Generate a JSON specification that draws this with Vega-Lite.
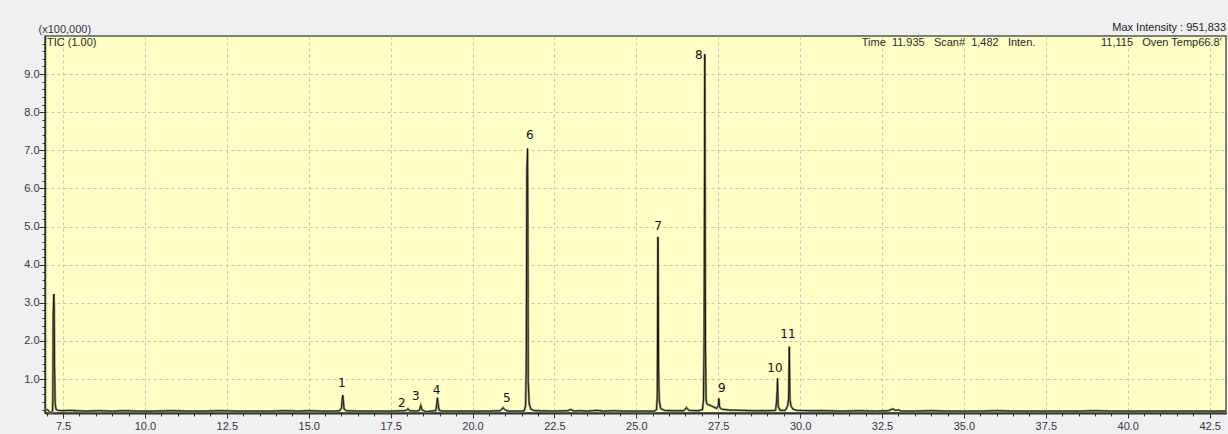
{
  "$schema": "https://vega.github.io/schema/vega-lite/v6.json",
  "width": 1181,
  "height": 377,
  "autosize": {"type": "none"},
  "padding": {"left": 45, "top": 36, "right": 2, "bottom": 21},
  "background": "#f0f0f0",
  "config": {
    "view": {"fill": "#ffffc6", "stroke": "#555555", "strokeWidth": 1.5},
    "font": "Liberation Sans"
  },
  "title": {
    "text": "Max Intensity : 951,833",
    "anchor": "end",
    "frame": "group",
    "offset": 3,
    "dy": 13,
    "fontSize": 11,
    "fontWeight": "normal",
    "font": "Liberation Sans",
    "color": "#222222"
  },
  "datasets": {
    "trace": [
      {"t": 6.95, "v": 0.21}, {"t": 7.0, "v": 0.2}, {"t": 7.05, "v": 0.18}, {"t": 7.1, "v": 0.12},
      {"t": 7.15, "v": 0.12}, {"t": 7.18, "v": 0.16}, {"t": 7.19, "v": 0.5}, {"t": 7.2, "v": 2.7},
      {"t": 7.22, "v": 3.23}, {"t": 7.23, "v": 2.9}, {"t": 7.24, "v": 1.4}, {"t": 7.26, "v": 0.35},
      {"t": 7.29, "v": 0.2}, {"t": 7.35, "v": 0.18}, {"t": 7.5, "v": 0.17}, {"t": 7.7, "v": 0.18},
      {"t": 7.9, "v": 0.17}, {"t": 8.2, "v": 0.16}, {"t": 8.6, "v": 0.17}, {"t": 9.0, "v": 0.16},
      {"t": 9.4, "v": 0.17}, {"t": 9.8, "v": 0.16}, {"t": 10.3, "v": 0.16}, {"t": 10.8, "v": 0.17},
      {"t": 11.3, "v": 0.16}, {"t": 11.8, "v": 0.16}, {"t": 12.3, "v": 0.17}, {"t": 12.8, "v": 0.16},
      {"t": 13.3, "v": 0.16}, {"t": 13.8, "v": 0.16}, {"t": 14.3, "v": 0.17}, {"t": 14.7, "v": 0.16},
      {"t": 15.0, "v": 0.17}, {"t": 15.4, "v": 0.16}, {"t": 15.8, "v": 0.16}, {"t": 15.95, "v": 0.17},
      {"t": 16.0, "v": 0.24}, {"t": 16.02, "v": 0.45}, {"t": 16.04, "v": 0.58}, {"t": 16.06, "v": 0.4},
      {"t": 16.08, "v": 0.21}, {"t": 16.15, "v": 0.17}, {"t": 16.5, "v": 0.16}, {"t": 17.0, "v": 0.16},
      {"t": 17.5, "v": 0.16}, {"t": 17.9, "v": 0.17}, {"t": 17.98, "v": 0.18}, {"t": 18.03, "v": 0.22},
      {"t": 18.08, "v": 0.17}, {"t": 18.3, "v": 0.16}, {"t": 18.38, "v": 0.18}, {"t": 18.42, "v": 0.31},
      {"t": 18.46, "v": 0.19}, {"t": 18.6, "v": 0.14}, {"t": 18.7, "v": 0.16}, {"t": 18.88, "v": 0.17},
      {"t": 18.91, "v": 0.35}, {"t": 18.93, "v": 0.51}, {"t": 18.95, "v": 0.35}, {"t": 18.98, "v": 0.18},
      {"t": 19.1, "v": 0.16}, {"t": 19.5, "v": 0.16}, {"t": 20.0, "v": 0.16}, {"t": 20.5, "v": 0.16},
      {"t": 20.85, "v": 0.17}, {"t": 20.93, "v": 0.25}, {"t": 20.97, "v": 0.21}, {"t": 21.02, "v": 0.18},
      {"t": 21.1, "v": 0.16}, {"t": 21.3, "v": 0.16}, {"t": 21.5, "v": 0.16}, {"t": 21.58, "v": 0.17},
      {"t": 21.62, "v": 0.3}, {"t": 21.64, "v": 1.32}, {"t": 21.66, "v": 6.46}, {"t": 21.68, "v": 7.05},
      {"t": 21.69, "v": 4.77}, {"t": 21.7, "v": 0.93}, {"t": 21.73, "v": 0.35}, {"t": 21.78, "v": 0.21},
      {"t": 21.85, "v": 0.18}, {"t": 22.0, "v": 0.17}, {"t": 22.5, "v": 0.16}, {"t": 22.9, "v": 0.17},
      {"t": 23.0, "v": 0.2}, {"t": 23.1, "v": 0.16}, {"t": 23.3, "v": 0.17}, {"t": 23.5, "v": 0.16},
      {"t": 23.8, "v": 0.18}, {"t": 24.0, "v": 0.16}, {"t": 24.3, "v": 0.17}, {"t": 24.6, "v": 0.16},
      {"t": 25.0, "v": 0.16}, {"t": 25.3, "v": 0.16}, {"t": 25.55, "v": 0.16}, {"t": 25.62, "v": 0.2},
      {"t": 25.64, "v": 0.6}, {"t": 25.66, "v": 4.73}, {"t": 25.68, "v": 1.24}, {"t": 25.7, "v": 0.45},
      {"t": 25.74, "v": 0.23}, {"t": 25.85, "v": 0.18}, {"t": 26.1, "v": 0.17}, {"t": 26.45, "v": 0.17},
      {"t": 26.53, "v": 0.25}, {"t": 26.6, "v": 0.18}, {"t": 26.9, "v": 0.17}, {"t": 27.02, "v": 0.2},
      {"t": 27.05, "v": 0.45}, {"t": 27.07, "v": 1.98}, {"t": 27.09, "v": 9.52}, {"t": 27.11, "v": 1.98},
      {"t": 27.13, "v": 0.45}, {"t": 27.16, "v": 0.34}, {"t": 27.25, "v": 0.31}, {"t": 27.35, "v": 0.27},
      {"t": 27.45, "v": 0.23}, {"t": 27.5, "v": 0.3}, {"t": 27.52, "v": 0.49}, {"t": 27.54, "v": 0.27},
      {"t": 27.6, "v": 0.21}, {"t": 27.8, "v": 0.19}, {"t": 28.2, "v": 0.18}, {"t": 28.6, "v": 0.17},
      {"t": 29.0, "v": 0.17}, {"t": 29.25, "v": 0.18}, {"t": 29.28, "v": 0.4}, {"t": 29.3, "v": 0.68},
      {"t": 29.31, "v": 1.02}, {"t": 29.33, "v": 0.3}, {"t": 29.38, "v": 0.18}, {"t": 29.55, "v": 0.18},
      {"t": 29.62, "v": 0.3}, {"t": 29.65, "v": 0.5}, {"t": 29.67, "v": 1.85}, {"t": 29.69, "v": 0.46},
      {"t": 29.72, "v": 0.3}, {"t": 29.78, "v": 0.21}, {"t": 29.9, "v": 0.18}, {"t": 30.3, "v": 0.17},
      {"t": 30.8, "v": 0.17}, {"t": 31.3, "v": 0.16}, {"t": 31.8, "v": 0.17}, {"t": 32.3, "v": 0.16},
      {"t": 32.7, "v": 0.17}, {"t": 32.83, "v": 0.22}, {"t": 32.9, "v": 0.18}, {"t": 33.0, "v": 0.19},
      {"t": 33.1, "v": 0.16}, {"t": 33.5, "v": 0.16}, {"t": 34.0, "v": 0.17}, {"t": 34.5, "v": 0.16},
      {"t": 35.0, "v": 0.16}, {"t": 35.5, "v": 0.16}, {"t": 36.0, "v": 0.17}, {"t": 36.5, "v": 0.16},
      {"t": 37.0, "v": 0.16}, {"t": 37.5, "v": 0.16}, {"t": 38.0, "v": 0.16}, {"t": 38.5, "v": 0.16},
      {"t": 39.0, "v": 0.17}, {"t": 39.5, "v": 0.16}, {"t": 40.0, "v": 0.16}, {"t": 40.5, "v": 0.16},
      {"t": 41.0, "v": 0.16}, {"t": 41.5, "v": 0.16}, {"t": 42.0, "v": 0.16}, {"t": 42.5, "v": 0.16},
      {"t": 43.0, "v": 0.16}
    ],
    "peaks": [
      {"t": 16.01, "v": 0.9, "label": "1"},
      {"t": 17.84, "v": 0.36, "label": "2"},
      {"t": 18.27, "v": 0.56, "label": "3"},
      {"t": 18.9, "v": 0.72, "label": "4"},
      {"t": 21.05, "v": 0.51, "label": "5"},
      {"t": 21.75, "v": 7.4, "label": "6"},
      {"t": 25.66, "v": 5.02, "label": "7"},
      {"t": 26.91, "v": 9.5, "label": "8"},
      {"t": 27.61, "v": 0.77, "label": "9"},
      {"t": 29.23, "v": 1.28, "label": "10"},
      {"t": 29.63, "v": 2.18, "label": "11"}
    ],
    "headerLeft": [
      {"t": 6.95, "v": 10.0, "text": "TIC (1.00)"},
      {"t": 31.82, "v": 10.0, "text": "Time\u00a0\u00a011.935\u00a0\u00a0\u00a0Scan#\u00a0\u00a01,482\u00a0\u00a0\u00a0Inten."}
    ],
    "headerRight": [
      {"t": 42.87, "v": 10.0, "text": "11,115\u00a0\u00a0\u00a0Oven Temp66.8'"}
    ]
  },
  "layer": [
    {
      "data": {"name": "trace"},
      "mark": {"type": "line", "color": "#9a9a78", "strokeWidth": 2.4, "interpolate": "linear"},
      "encoding": {
        "x": {
          "field": "t", "type": "quantitative",
          "scale": {"domain": [6.95, 43.0], "nice": false, "zero": false},
          "axis": {
            "title": null,
            "tickCount": 200,
            "values": [7.0, 7.5, 8.0, 8.5, 9.0, 9.5, 10.0, 10.5, 11.0, 11.5, 12.0, 12.5, 13.0, 13.5, 14.0, 14.5, 15.0, 15.5, 16.0, 16.5, 17.0, 17.5, 18.0, 18.5, 19.0, 19.5, 20.0, 20.5, 21.0, 21.5, 22.0, 22.5, 23.0, 23.5, 24.0, 24.5, 25.0, 25.5, 26.0, 26.5, 27.0, 27.5, 28.0, 28.5, 29.0, 29.5, 30.0, 30.5, 31.0, 31.5, 32.0, 32.5, 33.0, 33.5, 34.0, 34.5, 35.0, 35.5, 36.0, 36.5, 37.0, 37.5, 38.0, 38.5, 39.0, 39.5, 40.0, 40.5, 41.0, 41.5, 42.0, 42.5],
            "labelExpr": "abs(datum.value/2.5 - round(datum.value/2.5)) < 0.01 ? format(datum.value, '.1f') : ''",
            "labelFont": "Liberation Sans",
            "labelFontSize": 11,
            "labelColor": "#353548",
            "labelPadding": 2,
            "labelFlush": false,
            "labelOverlap": false,
            "tickSize": {"condition": {"test": "abs(datum.value/2.5 - round(datum.value/2.5)) < 0.01", "value": 5}, "value": 3},
            "tickColor": "#333333",
            "domainColor": "#333333",
            "domainWidth": 2,
            "grid": true,
            "gridDash": [3, 3],
            "gridColor": "#c4c4c4",
            "gridOpacity": {"condition": {"test": "abs(datum.value/2.5 - round(datum.value/2.5)) < 0.01", "value": 1}, "value": 0}
          }
        },
        "y": {
          "field": "v", "type": "quantitative",
          "scale": {"domain": [0.11, 10.0], "nice": false, "zero": false},
          "axis": {
            "title": "(x100,000)",
            "titleAngle": 0,
            "titleAlign": "left",
            "titleBaseline": "bottom",
            "titleX": -7,
            "titleY": -2,
            "titleFont": "Liberation Sans",
            "titleFontSize": 11,
            "titleFontWeight": "normal",
            "titleColor": "#353548",
            "tickCount": 200,
            "values": [0.2, 0.4, 0.6, 0.8, 1.0, 1.2, 1.4, 1.6, 1.8, 2.0, 2.2, 2.4, 2.6, 2.8, 3.0, 3.2, 3.4, 3.6, 3.8, 4.0, 4.2, 4.4, 4.6, 4.8, 5.0, 5.2, 5.4, 5.6, 5.8, 6.0, 6.2, 6.4, 6.6, 6.8, 7.0, 7.2, 7.4, 7.6, 7.8, 8.0, 8.2, 8.4, 8.6, 8.8, 9.0, 9.2, 9.4, 9.6, 9.8],
            "labelExpr": "abs(datum.value - round(datum.value)) < 0.01 ? format(datum.value, '.1f') : ''",
            "labelFont": "Liberation Sans",
            "labelFontSize": 11,
            "labelColor": "#353548",
            "labelPadding": 0,
            "labelFlush": false,
            "labelOverlap": false,
            "tickSize": {"condition": {"test": "abs(datum.value - round(datum.value)) < 0.01", "value": 6}, "value": 3},
            "tickColor": "#333333",
            "domainColor": "#333333",
            "domainWidth": 1.5,
            "grid": true,
            "gridDash": [3, 3],
            "gridColor": "#c4c4c4",
            "gridOpacity": {"condition": {"test": "abs(datum.value - round(datum.value)) < 0.01", "value": 1}, "value": 0}
          }
        }
      }
    },
    {
      "data": {"name": "trace"},
      "mark": {"type": "line", "color": "#141414", "strokeWidth": 1, "interpolate": "linear"},
      "encoding": {
        "x": {"field": "t", "type": "quantitative"},
        "y": {"field": "v", "type": "quantitative"}
      }
    },
    {
      "data": {"name": "peaks"},
      "mark": {"type": "text", "font": "DejaVu Sans", "fontSize": 12, "color": "#111111", "align": "center", "baseline": "middle"},
      "encoding": {
        "x": {"field": "t", "type": "quantitative"},
        "y": {"field": "v", "type": "quantitative"},
        "text": {"field": "label"}
      }
    },
    {
      "data": {"name": "headerLeft"},
      "mark": {"type": "text", "font": "Liberation Sans", "fontSize": 11, "color": "#2a2a2a", "align": "left", "baseline": "top", "dx": 2, "dy": 1},
      "encoding": {
        "x": {"field": "t", "type": "quantitative"},
        "y": {"field": "v", "type": "quantitative"},
        "text": {"field": "text"}
      }
    },
    {
      "data": {"name": "headerRight"},
      "mark": {"type": "text", "font": "Liberation Sans", "fontSize": 11, "color": "#2a2a2a", "align": "right", "baseline": "top", "dy": 1},
      "encoding": {
        "x": {"field": "t", "type": "quantitative"},
        "y": {"field": "v", "type": "quantitative"},
        "text": {"field": "text"}
      }
    }
  ]
}
